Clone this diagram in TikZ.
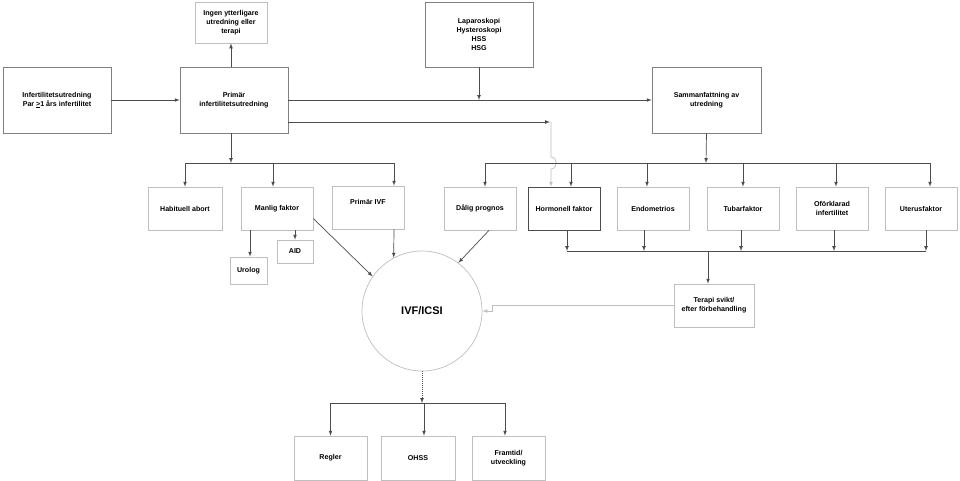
\documentclass[tikz,border=0pt]{standalone}
\usepackage{fontspec}
\setmainfont{Liberation Sans}
\usetikzlibrary{positioning}
\definecolor{linegray}{gray}{0.3}
\definecolor{midgray}{gray}{0.5}
\definecolor{lightgray}{gray}{0.75}
\tikzset{main node/.style={draw=midgray, line width=0.7pt, minimum width=108pt, minimum height=66pt, inner sep=1pt, align=center, font=\fontsize{7.1}{8.9}\selectfont\bfseries},
small node/.style={draw=lightgray, line width=0.7pt, minimum width=72pt, minimum height=43pt, inner sep=1pt, align=center, font=\fontsize{7.1}{8.9}\selectfont\bfseries},
tiny node/.style={small node, minimum width=36pt, minimum height=25pt},
link/.style={draw=linegray, line width=0.7pt},
soft link/.style={draw=lightgray, line width=0.7pt},}

\begin{document}
\begin{tikzpicture}[x=1pt, y=-1pt, >=latex]
        \useasboundingbox (0,0) rectangle (960,480);
        % Nodes
        \node[main node] (inf) at (57,100) {Infertilitetsutredning\\Par \underline{>}1 års infertilitet};
        \node[main node] (prim) at (234,100) {Primär\\infertilitetsutredning};
        \node[small node, minimum height=41pt] (ingen) at (231,22.5) {Ingen ytterligare\\utredning eller\\terapi};
        \node[main node, minimum height=65pt] (lap) at (479,34.5) {Laparoskopi\\Hysteroskopi\\HSS\\HSG};
        \node[main node, minimum width=109pt] (samm) at (706.5,100) {Sammanfattning av\\utredning};
        \node[small node, minimum width=74pt] (hab) at (185,208.5) {Habituell abort};
        \node[small node] (man) at (277,208.5) {Manlig faktor};
        \node[small node] (pivf) at (368,207.5) {Primär IVF\\[2pt]};
        \node[tiny node, minimum height=23pt] (aid) at (295,251.5) {AID};
        \node[tiny node, minimum width=37pt, minimum height=27pt] (uro) at (248.5,270.5) {Urolog};
        \node[small node] (dal) at (480,208.5) {Dålig prognos};
        \node[small node, draw=linegray] (horm) at (564,208.5) {Hormonell faktor};
        \node[small node] (endo) at (653,208.5) {Endometrios};
        \node[small node] (tub) at (743,208.5) {Tubarfaktor};
        \node[small node] (ofo) at (832,208.5) {Oförklarad\\infertilitet};
        \node[small node] (ute) at (921,208.5) {Uterusfaktor};
        \node[small node, minimum width=80pt] (ter) at (714,305.5) {Terapi svikt/\\efter förbehandling};
        \node[circle, draw=lightgray, line width=0.7pt, minimum size=120pt, font=\fontsize{11}{13}\selectfont\bfseries] (ivf) at (422,311) {IVF/ICSI};
        \node[small node, minimum width=73pt, minimum height=44pt] (reg) at (330.5,458) {Regler};
        \node[small node, minimum width=74pt, minimum height=44pt] (ohss) at (418,458) {OHSS};
        \node[small node, minimum width=73pt, minimum height=44pt] (fram) at (508.5,458) {Framtid/\\utveckling};
        % Junctions
        \coordinate (j1) at (231,163);
        \coordinate (j2) at (706,163);
        \coordinate (j3) at (708,251);
        \coordinate (j4) at (422,403);
        \coordinate (hop) at (550,122);
        \coordinate (tj) at (492,305.5);
        % Paths
        \draw[link,->] (inf) -- (prim);
        \draw[link,->] (prim.north -| j1) -- (ingen.south -| j1);
        \draw[link,->] (prim.east) -- (samm.west);
        \draw[link,->] (lap.south) -- (lap.south |- samm.west);
        \draw[link,->] ([yshift=-22pt]prim.east) -- (hop);
        \draw[soft link,->] ([xshift=1pt]hop) -- (551,157) .. controls (558,157) and (558,169) .. (551,169) -- ([xshift=-13pt]horm.north);
        % left fan
        \draw[link,->] (prim.south -| j1) -- (j1);
        \draw[link] (hab.north |- j1) -- ([xshift=26pt]pivf.north |- j1);
        \draw[link,->] (hab.north |- j1) -- (hab.north);
        \draw[link,->] ([xshift=-4pt]man.north |- j1) -- ([xshift=-4pt]man.north);
        \draw[link,->] ([xshift=26pt]pivf.north |- j1) -- ([xshift=26pt]pivf.north);
        \draw[link,->] ([xshift=-27pt]man.south) -- ([xshift=1.5pt]uro.north);
        \draw[link,->] ([xshift=18pt]man.south) -- (aid.north);
        \draw[link,->] ([yshift=-10pt]man.east) -- (ivf.145);
        \draw[link,->] ([xshift=26pt]pivf.south) -- (ivf.118);
        \draw[link,->] ([xshift=9pt]dal.south) -- (ivf.53);
        % right fan
        \draw[link,->] (samm.south) -- (j2);
        \draw[link] ([xshift=5pt]dal.north |- j2) -- ([xshift=9pt]ute.north |- j2);
        \draw[link,->] ([xshift=5pt]dal.north |- j2) -- ([xshift=5pt]dal.north);
        \draw[link,->] ([xshift=7pt]horm.north |- j2) -- ([xshift=7pt]horm.north);
        \draw[link,->] ([xshift=-6pt]endo.north |- j2) -- ([xshift=-6pt]endo.north);
        \draw[link,->] (tub.north |- j2) -- (tub.north);
        \draw[link,->] ([xshift=4pt]ofo.north |- j2) -- ([xshift=4pt]ofo.north);
        \draw[link,->] ([xshift=9pt]ute.north |- j2) -- ([xshift=9pt]ute.north);
        \draw[link] ([xshift=3pt]horm.south |- j3) -- ([xshift=5pt]ute.south |- j3);
        \draw[link,->] ([xshift=3pt]horm.south) -- ([xshift=3pt]horm.south |- j3);
        \draw[link,->] ([xshift=-9pt]endo.south) -- ([xshift=-9pt]endo.south |- j3);
        \draw[link,->] ([xshift=-2pt]tub.south) -- ([xshift=-2pt]tub.south |- j3);
        \draw[link,->] ([xshift=2pt]ofo.south) -- ([xshift=2pt]ofo.south |- j3);
        \draw[link,->] ([xshift=5pt]ute.south) -- ([xshift=5pt]ute.south |- j3);
        \draw[link,->] (j3) -- (ter.north -| j3);
        \draw[soft link,->] (ter.west) -- (tj) |- (ivf.east);
        % bottom fan
        \draw[link,->,dash pattern=on 1pt off 1pt] (ivf.south) -- (j4);
        \draw[link] (reg.north |- j4) -- ([xshift=-3.5pt]fram.north |- j4);
        \draw[link,->] (reg.north |- j4) -- (reg.north);
        \draw[link,->] ([xshift=6pt]ohss.north |- j4) -- ([xshift=6pt]ohss.north);
        \draw[link,->] ([xshift=-3.5pt]fram.north |- j4) -- ([xshift=-3.5pt]fram.north);
    \end{tikzpicture}
\end{document}
